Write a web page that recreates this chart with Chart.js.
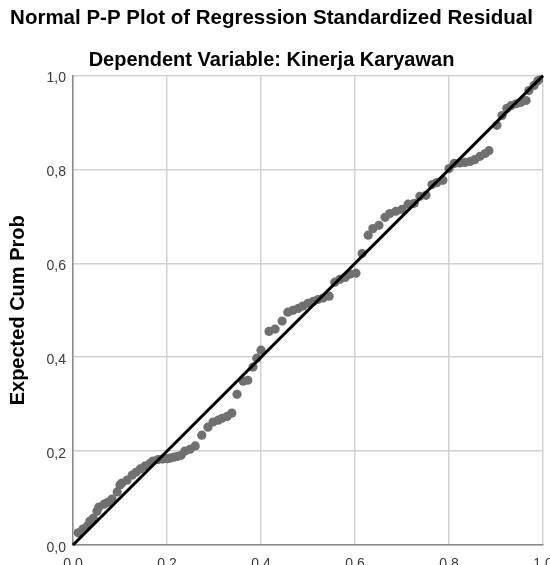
<!DOCTYPE html>
<html>
<head>
<meta charset="utf-8">
<script src="https://cdn.jsdelivr.net/npm/chart.js@4.4.1/dist/chart.umd.min.js"></script>
<style>
  body { margin: 0; overflow: hidden; background: #fff; }
  canvas { display: block; }
</style>
</head>
<body>
<canvas id="myChart" width="564" height="600"></canvas>
<script>

// observed cum prob (x) and expected cum prob (y)
var observed = [
  0.011, 0.021, 0.030, 0.036, 0.043, 0.051, 0.055, 0.066, 0.074, 0.083,
  0.094, 0.100, 0.104, 0.115, 0.126, 0.134, 0.143, 0.153, 0.164, 0.170,
  0.181, 0.191, 0.200, 0.206, 0.215, 0.223, 0.230, 0.238, 0.249, 0.260,
  0.274, 0.287, 0.298, 0.309, 0.317, 0.328, 0.338, 0.349, 0.362, 0.372,
  0.383, 0.391, 0.400, 0.417, 0.430, 0.445, 0.457, 0.468, 0.479, 0.489,
  0.500, 0.511, 0.521, 0.532, 0.545, 0.557, 0.568, 0.579, 0.589, 0.602,
  0.615, 0.628, 0.638, 0.651, 0.664, 0.674, 0.687, 0.700, 0.713, 0.726,
  0.738, 0.751, 0.764, 0.774, 0.787, 0.800, 0.811, 0.823, 0.834, 0.845,
  0.855, 0.866, 0.877, 0.885, 0.902, 0.913, 0.923, 0.932, 0.943, 0.953,
  0.964, 0.970, 0.981, 0.989, 0.998
];
var expected = [
  0.026, 0.034, 0.040, 0.051, 0.057, 0.072, 0.081, 0.087, 0.091, 0.098,
  0.113, 0.128, 0.132, 0.138, 0.149, 0.155, 0.162, 0.168, 0.174, 0.179,
  0.182, 0.183, 0.184, 0.185, 0.187, 0.189, 0.191, 0.200, 0.204, 0.211,
  0.234, 0.251, 0.262, 0.266, 0.270, 0.274, 0.281, 0.321, 0.349, 0.351,
  0.379, 0.398, 0.415, 0.455, 0.460, 0.477, 0.496, 0.500, 0.504, 0.509,
  0.515, 0.519, 0.523, 0.526, 0.530, 0.560, 0.566, 0.570, 0.577, 0.579,
  0.621, 0.660, 0.674, 0.681, 0.698, 0.706, 0.711, 0.715, 0.726, 0.728,
  0.743, 0.745, 0.768, 0.772, 0.777, 0.802, 0.813, 0.814, 0.815, 0.817,
  0.821, 0.828, 0.834, 0.840, 0.894, 0.915, 0.930, 0.936, 0.940, 0.943,
  0.947, 0.968, 0.979, 0.989, 0.996
];

// reference line ends
var lineX = [0, 1];
var lineY = [0, 1];

var tickValues = [0, 0.2, 0.4, 0.6, 0.8, 1.0];
var tickLabels = ['0,0', '0,2', '0,4', '0,6', '0,8', '1,0'];

var points = [];
for (var i = 0; i < observed.length; i++) {
  points.push({x: observed[i], y: expected[i]});
}
var diag = [];
for (var j = 0; j < lineX.length; j++) {
  diag.push({x: lineX[j], y: lineY[j]});
}

var FONT = '"Liberation Sans", Arial, sans-serif';

function setTicks(scale) {
  scale.ticks = tickValues.map(function(v) { return {value: v}; });
}

var ctx = document.getElementById('myChart').getContext('2d');
var chart = new Chart(ctx, {
  type: 'scatter',
  data: {
    datasets: [
      {
        type: 'line',
        data: diag,
        borderColor: '#000000',
        borderWidth: 3,
        pointRadius: 0,
        fill: false,
        clip: 4,
        order: 0
      },
      {
        data: points,
        backgroundColor: '#707070',
        borderWidth: 0,
        pointRadius: 4.6,
        pointHoverRadius: 4.6,
        order: 1
      }
    ]
  },
  options: {
    responsive: false,
    animation: false,
    events: [],
    layout: {
      padding: {left: 0, right: 21, top: 0, bottom: 0}
    },
    plugins: {
      legend: {display: false},
      tooltip: {enabled: false},
      title: {
        display: true,
        text: 'Normal P-P Plot of Regression Standardized Residual',
        color: '#000',
        font: {family: FONT, size: 20.5, weight: 'bold'},
        padding: {top: 6, bottom: 18}
      },
      subtitle: {
        display: true,
        text: 'Dependent Variable: Kinerja Karyawan',
        color: '#000',
        font: {family: FONT, size: 20, weight: 'bold'},
        padding: {top: 0, bottom: 3}
      }
    },
    scales: {
      x: {
        type: 'linear',
        min: 0,
        max: 1,
        afterBuildTicks: setTicks,
        afterFit: function(scale) { scale.height = 55; },
        ticks: {
          color: '#3a3a3a',
          font: {family: FONT, size: 14},
          padding: 11,
          callback: function(v, idx) { return tickLabels[idx]; }
        },
        grid: {color: '#d2d2d2', lineWidth: 1.5, drawTicks: false},
        border: {color: '#8c8c8c', width: 1.5},
        title: {
          display: true,
          text: 'Observed Cum Prob',
          color: '#000',
          font: {family: FONT, size: 20, weight: 'bold'}
        }
      },
      y: {
        type: 'linear',
        min: 0,
        max: 1,
        afterBuildTicks: setTicks,
        afterFit: function(scale) { scale.width = 73; },
        ticks: {
          color: '#3a3a3a',
          font: {family: FONT, size: 14},
          padding: 7,
          labelOffset: 3,
          callback: function(v, idx) { return tickLabels[idx]; }
        },
        grid: {color: '#d2d2d2', lineWidth: 1.5, drawTicks: false},
        border: {color: '#8c8c8c', width: 1.5},
        title: {
          display: true,
          text: 'Expected Cum Prob',
          color: '#000',
          font: {family: FONT, size: 20, weight: 'bold'},
          padding: {top: 6, bottom: 0}
        }
      }
    }
  }
});
</script>
</body>
</html>
